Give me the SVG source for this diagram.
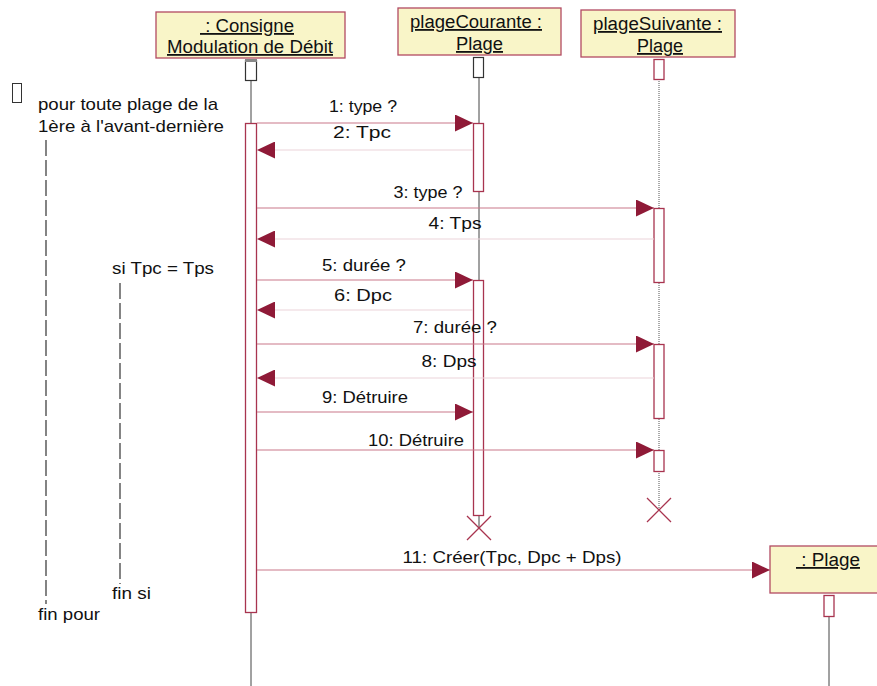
<svg xmlns="http://www.w3.org/2000/svg" width="877" height="686" viewBox="0 0 877 686">
  <style>
    text { font-family: "Liberation Sans", Arial, sans-serif; font-size: 17px; fill: #111; }
    .name { text-decoration: underline; font-size: 18px; }
    .obj { fill: #f9f5c8; stroke: #b24a62; stroke-width: 1.3; }
    .life { stroke: #444; stroke-width: 1; fill: none; }
    .lifed { stroke: #555; stroke-width: 1; stroke-dasharray: 1 1; fill: none; }
    .act { fill: #fff; stroke: #a8344f; stroke-width: 1.3; }
    .actk { fill: #fff; stroke: #333; stroke-width: 1.2; }
    .call { stroke: #c9788a; stroke-width: 1.2; fill: none; marker-end: url(#head); }
    .ret { stroke: #ecd3d9; stroke-width: 1.2; fill: none; marker-end: url(#head); }
    .kill { stroke: #a8344f; stroke-width: 1.3; fill: none; }
    .guard { stroke: #333; stroke-width: 1.2; stroke-dasharray: 16 4; fill: none; }
  </style>
  <defs>
    <marker id="head" markerUnits="userSpaceOnUse" markerWidth="18" markerHeight="17" refX="18" refY="8.5" orient="auto">
      <path d="M0,0 L18,8.5 L0,17 z" fill="#8f1a37"/>
    </marker>
  </defs>

  <rect width="877" height="686" fill="#fff"/>

  <!-- lifelines -->
  <g id="lifelines">
    <line class="life" x1="251" y1="80" x2="251" y2="686"/>
    <line class="life" x1="479" y1="77" x2="479" y2="528"/>
    <line class="lifed" x1="659" y1="79" x2="659" y2="510"/>
    <line class="life" x1="829" y1="616" x2="829" y2="686"/>
  </g>

  <!-- objects -->
  <g id="consigne">
    <rect class="obj" x="156" y="12" width="189" height="46"/>
    <text class="name" x="247" y="32" text-anchor="middle" textLength="94" lengthAdjust="spacingAndGlyphs" xml:space="preserve"> : Consigne</text>
    <text class="name" x="250" y="53" text-anchor="middle" textLength="166" lengthAdjust="spacingAndGlyphs">Modulation de Débit</text>
    <rect class="actk" x="245.5" y="60.5" width="11" height="20"/>
    <rect x="245" y="59" width="12" height="3" fill="#888"/>
    <rect class="act" x="245.5" y="123.5" width="11" height="489"/>
  </g>

  <g id="plageCourante">
    <rect class="obj" x="398" y="8" width="163" height="47"/>
    <text class="name" x="476" y="28" text-anchor="middle" textLength="132" lengthAdjust="spacingAndGlyphs">plageCourante :</text>
    <text class="name" x="479.5" y="50" text-anchor="middle" textLength="47" lengthAdjust="spacingAndGlyphs">Plage</text>
    <rect class="actk" x="473.5" y="57.5" width="10" height="20"/>
    <rect class="act" x="473.5" y="123.5" width="10" height="68"/>
    <rect class="act" x="473.5" y="280.5" width="10" height="235"/>
    <path class="kill" d="M467,516 L491,540 M491,516 L467,540"/>
  </g>

  <g id="plageSuivante">
    <rect class="obj" x="581" y="10" width="154" height="47"/>
    <text class="name" x="657.5" y="30" text-anchor="middle" textLength="129" lengthAdjust="spacingAndGlyphs">plageSuivante :</text>
    <text class="name" x="660" y="52" text-anchor="middle" textLength="46" lengthAdjust="spacingAndGlyphs">Plage</text>
    <rect class="act" x="654" y="59.5" width="10" height="20"/>
    <rect class="act" x="654" y="208.5" width="10" height="74"/>
    <rect class="act" x="654" y="344.5" width="10" height="74"/>
    <rect class="act" x="654" y="450.5" width="10" height="21"/>
    <path class="kill" d="M647,498 L671,522 M671,498 L647,522"/>
  </g>

  <g id="plage">
    <rect class="obj" x="770" y="546" width="116" height="47"/>
    <text class="name" x="828" y="566" text-anchor="middle" textLength="64" lengthAdjust="spacingAndGlyphs" xml:space="preserve"> : Plage</text>
    <rect class="act" x="824" y="595.5" width="10" height="21"/>
  </g>

  <!-- loop and condition annotations -->
  <g id="boucle">
    <rect x="12.5" y="83.5" width="9" height="19" fill="#fff" stroke="#333" stroke-width="1"/>
    <text x="38" y="110" textLength="180" lengthAdjust="spacingAndGlyphs">pour toute plage de la</text>
    <text x="38" y="132" textLength="186" lengthAdjust="spacingAndGlyphs">1ère à l'avant-dernière</text>
    <line class="guard" x1="46" y1="140" x2="46" y2="604"/>
    <text x="38" y="620" textLength="62" lengthAdjust="spacingAndGlyphs">fin pour</text>
  </g>
  <g id="condition">
    <text x="112" y="274" textLength="102" lengthAdjust="spacingAndGlyphs">si Tpc = Tps</text>
    <line class="guard" x1="120" y1="283" x2="120" y2="584"/>
    <text x="112" y="599" textLength="39" lengthAdjust="spacingAndGlyphs">fin si</text>
  </g>

  <!-- messages -->
  <g id="messages">
    <line class="call" x1="257" y1="123" x2="473" y2="123"/>
    <text x="363" y="112" text-anchor="middle" textLength="68" lengthAdjust="spacingAndGlyphs">1: type ?</text>
    <line class="ret" x1="473" y1="150" x2="257" y2="150"/>
    <text x="362" y="138" text-anchor="middle" textLength="58" lengthAdjust="spacingAndGlyphs">2: Tpc</text>
    <line class="call" x1="257" y1="208" x2="654" y2="208"/>
    <text x="428" y="198" text-anchor="middle" textLength="69" lengthAdjust="spacingAndGlyphs">3: type ?</text>
    <line class="ret" x1="654" y1="239" x2="257" y2="239"/>
    <text x="455" y="229" text-anchor="middle" textLength="53" lengthAdjust="spacingAndGlyphs">4: Tps</text>
    <line class="call" x1="257" y1="280" x2="473" y2="280"/>
    <text x="364" y="271" text-anchor="middle" textLength="84" lengthAdjust="spacingAndGlyphs">5: durée ?</text>
    <line class="ret" x1="473" y1="310" x2="257" y2="310"/>
    <text x="363" y="301" text-anchor="middle" textLength="58" lengthAdjust="spacingAndGlyphs">6: Dpc</text>
    <line class="call" x1="257" y1="344" x2="654" y2="344"/>
    <text x="455" y="333" text-anchor="middle" textLength="84" lengthAdjust="spacingAndGlyphs">7: durée ?</text>
    <line class="ret" x1="654" y1="378" x2="257" y2="378"/>
    <text x="449" y="367" text-anchor="middle" textLength="55" lengthAdjust="spacingAndGlyphs">8: Dps</text>
    <line class="call" x1="257" y1="412" x2="473" y2="412"/>
    <text x="365" y="403" text-anchor="middle" textLength="86" lengthAdjust="spacingAndGlyphs">9: Détruire</text>
    <line class="call" x1="257" y1="450" x2="654" y2="450"/>
    <text x="416" y="446" text-anchor="middle" textLength="96" lengthAdjust="spacingAndGlyphs">10: Détruire</text>
    <line class="call" x1="257" y1="570" x2="770" y2="570"/>
    <text x="512" y="563" text-anchor="middle" textLength="219" lengthAdjust="spacingAndGlyphs">11: Créer(Tpc, Dpc + Dps)</text>
  </g>
</svg>
